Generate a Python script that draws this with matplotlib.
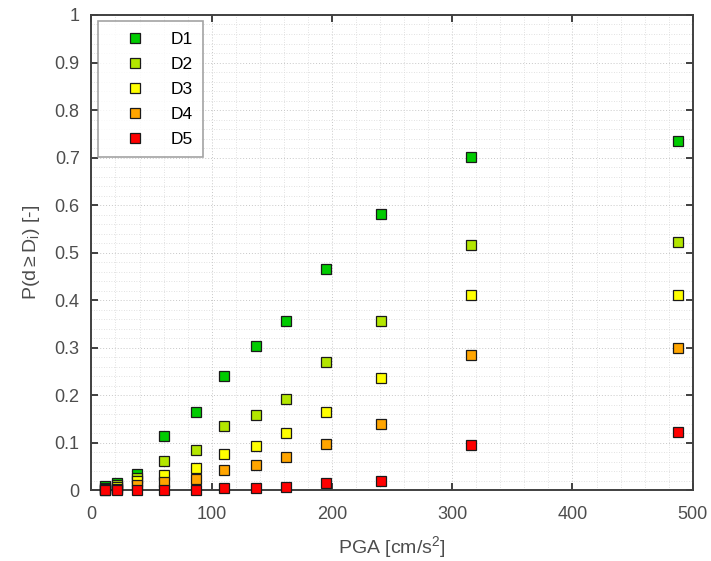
import matplotlib
matplotlib.use("Agg")
import matplotlib.pyplot as plt
from matplotlib.ticker import MultipleLocator, FuncFormatter

plt.rcParams["font.family"] = ["Liberation Sans", "DejaVu Sans"]
plt.rcParams["mathtext.fontset"] = "custom"
plt.rcParams["mathtext.rm"] = "Liberation Sans"
plt.rcParams["mathtext.it"] = "Liberation Sans"

pga = [11, 21, 37.7, 60.4, 87, 110, 137, 162, 195, 241, 316, 488]
d1 = [0.009, 0.016, 0.034, 0.115, 0.164, 0.240, 0.303, 0.357, 0.466, 0.581, 0.701, 0.735]
d2 = [0.006, 0.012, 0.026, 0.062, 0.085, 0.135, 0.159, 0.192, 0.270, 0.357, 0.516, 0.523]
d3 = [0.004, 0.008, 0.019, 0.033, 0.047, 0.077, 0.094, 0.120, 0.164, 0.237, 0.412, 0.411]
d4 = [0.002, 0.004, 0.011, 0.018, 0.024, 0.043, 0.054, 0.0705, 0.098, 0.139, 0.285, 0.300]
d5 = [0.0005, 0.001, 0.002, 0.001, 0.002, 0.0046, 0.006, 0.0074, 0.015, 0.019, 0.095, 0.1225]

labels = ["D1", "D2", "D3", "D4", "D5"]
colors = ["#00cc00", "#b3e600", "#ffff00", "#ffa500", "#ff0000"]
series = [d1, d2, d3, d4, d5]

fig = plt.figure(figsize=(7.11, 5.61), dpi=100)
ax = fig.add_axes([0.1286, 0.1257, 0.8457, 0.8476])

for vals, lab, col in zip(series, labels, colors):
    ax.plot(pga, vals, linestyle="none", marker="s", markersize=7.4,
            markerfacecolor=col, markeredgecolor="#1a1a1a", markeredgewidth=0.9,
            label=lab, clip_on=False, zorder=3)

ax.set_xlim(0, 500)
ax.set_ylim(0, 1)
ax.xaxis.set_major_locator(MultipleLocator(100))
ax.yaxis.set_major_locator(MultipleLocator(0.1))
ax.xaxis.set_minor_locator(MultipleLocator(20))
ax.yaxis.set_minor_locator(MultipleLocator(0.02))
ax.yaxis.set_major_formatter(FuncFormatter(lambda v, p: "%g" % round(v, 2)))

ax.grid(True, which="major", color="#c8c8c8", linestyle=(0, (1, 2)), linewidth=0.7)
ax.grid(True, which="minor", color="#d8d8d8", linestyle=(0, (1, 2)), linewidth=0.6)
ax.set_axisbelow(True)

for sp in ax.spines.values():
    sp.set_color("#404040")
    sp.set_linewidth(1.4)
ax.tick_params(which="major", direction="in", top=True, right=True, length=5,
               width=1.4, color="#404040", labelcolor="#4d4d4d", labelsize=13)
ax.tick_params(axis="x", which="major", pad=11)
ax.tick_params(axis="y", which="major", pad=8.5)
ax.tick_params(which="minor", length=0)

ax.set_xlabel("PGA [cm/s$^2$]", fontsize=14, color="#4d4d4d", labelpad=8)
ax.set_ylabel(r"P(d$\geq$D$_\mathrm{i}$) [-]", fontsize=14, color="#4d4d4d", labelpad=9)

leg = ax.legend(loc="upper left", fontsize=12.5, frameon=True, fancybox=False,
                borderpad=0.6, labelspacing=0.57, handletextpad=0.5, handlelength=3.1,
                borderaxespad=0.35)
leg.get_frame().set_edgecolor("#8c8c8c")
leg.get_frame().set_linewidth(1.2)

fig.savefig("out.png", dpi=100)
